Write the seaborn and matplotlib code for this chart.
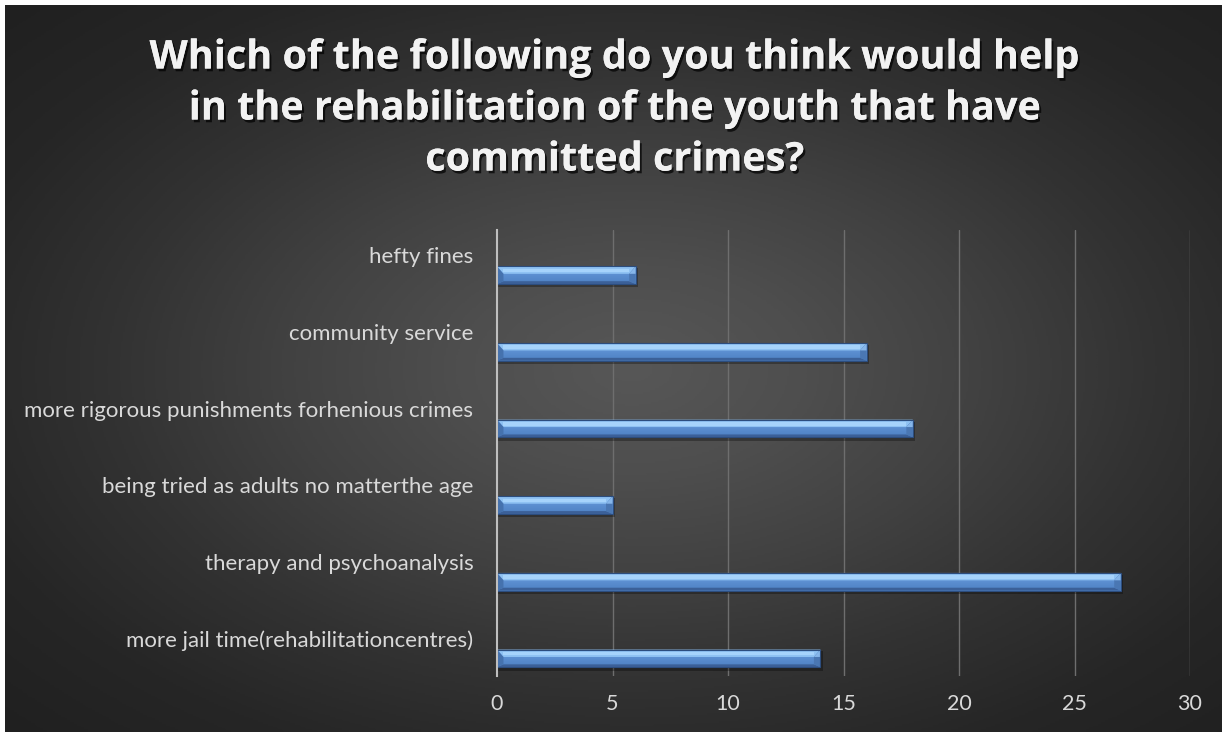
import numpy as np
import pandas as pd
import matplotlib
matplotlib.use("Agg")
import matplotlib.pyplot as plt
import matplotlib.patheffects as pe
from matplotlib.colors import LinearSegmentedColormap
import seaborn as sns

categories = [
    "hefty fines",
    "community service",
    "more rigorous punishments forhenious crimes",
    "being tried as adults no matterthe age",
    "therapy and psychoanalysis",
    "more jail time(rehabilitationcentres)",
]
responses = [6, 16, 18, 5, 27, 14]
x_ticks = [0, 5, 10, 15, 20, 25, 30]

df = pd.DataFrame({"option": categories, "count": responses})

sns.set_theme(style="white")
plt.rcParams["font.family"] = ["Lato", "DejaVu Sans"]

W, H = 1230, 736
fig = plt.figure(figsize=(W / 100, H / 100), dpi=100, facecolor="white")

# radial dark backdrop
bg = fig.add_axes([5 / W, 4 / H, 1 - 13 / W, 1 - 9 / H])
bg.set_axis_off()
yy, xx = np.mgrid[0:400, 0:700]
cx, cy = 360, 200
r = np.sqrt(((xx - cx) / 700) ** 2 + ((yy - cy) / 400) ** 2)
r = r / r.max()
bg_cmap = LinearSegmentedColormap.from_list(
    "bg", ["#575757", "#4e4e4e", "#414141", "#323232", "#262626", "#202020"])
bg.imshow(r, cmap=bg_cmap, aspect="auto", extent=(0, 1, 0, 1), origin="upper")
bg.set_xlim(0, 1)
bg.set_ylim(0, 1)

ax = fig.add_axes([497 / W, 1 - 676 / H, (1190 - 497) / W, (676 - 230) / H])
ax.patch.set_alpha(0)

sns.barplot(data=df, x="count", y="option", orient="h", width=0.23,
            color="#5d90d1", ax=ax, zorder=3)

ax.set_xlim(0, 30)
ax.set_ylim(5.23, -0.59)

# bevelled look on each bar
mid_cmap = LinearSegmentedColormap.from_list("mid", ["#74a7e4", "#5b8ed0", "#4e81c3"])
grad = np.linspace(0, 1, 64).reshape(-1, 1)
for p in list(ax.patches):
    x0, yt = p.get_x(), p.get_y()
    w, h = p.get_width(), p.get_height()
    x1, yb = x0 + w, yt + h
    dx = min(0.28, w * 0.15)
    dyt, dyb = h * 0.42, h * 0.16
    # soft shadow under the bar
    ax.add_patch(plt.Rectangle((x0, yt + 0.025), w + 0.1, h + 0.02,
                               facecolor="black", alpha=0.3, lw=0, zorder=2))
    im = ax.imshow(grad, cmap=mid_cmap, aspect="auto",
                   extent=(x0, x1, yb, yt), origin="upper", zorder=4)
    im.set_clip_path(p)
    # top face
    ax.fill([x0, x1, x1 - dx, x0 + dx], [yt, yt, yt + dyt, yt + dyt],
            color="#8fc2f3", lw=0, zorder=5)
    ax.fill([x0 + dx, x1 - dx, x1 - dx, x0 + dx],
            [yt + dyt * 0.3, yt + dyt * 0.3, yt + dyt * 0.8, yt + dyt * 0.8],
            color="#a6d3fb", lw=0, zorder=5)
    # bottom face
    ax.fill([x0, x1, x1 - dx, x0 + dx], [yb, yb, yb - dyb, yb - dyb],
            color="#3b6098", lw=0, zorder=5)
    # left face
    ax.fill([x0, x0 + dx, x0 + dx, x0], [yt, yt + dyt, yb - dyb, yb],
            color="#4572ae", lw=0, zorder=5)
    # right face
    ax.fill([x1, x1 - dx, x1 - dx, x1], [yt, yt + dyt, yb - dyb, yb],
            color="#4a77b3", lw=0, zorder=5)
    ax.fill([x1, x1 - dx, x1], [yt, yt + dyt, yt + dyt],
            color="#86b6ea", lw=0, zorder=5)
    p.set_edgecolor("#2c4d7e")
    p.set_linewidth(0.8)
    p.set_zorder(6)
    p.set_facecolor("none")

ax.set_xlim(0, 30)
ax.set_ylim(5.23, -0.59)

# category labels sit above their bars
ax.set_yticks([i - 0.26 for i in range(len(categories))])
ax.set_yticklabels(categories, fontsize=16, color="#d9d9d9")
ax.tick_params(axis="y", length=0, pad=17)

ax.set_xticks(x_ticks)
ax.set_xticklabels([str(t) for t in x_ticks], fontsize=15.5, color="#d9d9d9")
ax.tick_params(axis="x", length=0, pad=13)

for t in x_ticks[1:]:
    ax.axvline(t, color="#6e6e6e", lw=1.0, zorder=1)

for s in ["top", "right", "bottom"]:
    ax.spines[s].set_visible(False)
ax.spines["left"].set_color("#bfbfbf")
ax.spines["left"].set_linewidth(1.5)
ax.spines["left"].set_zorder(7)
ax.set_xlabel("")
ax.set_ylabel("")

title = ("Which of the following do you think would help\n"
         "in the rehabilitation of the youth that have\n"
         "committed crimes?")
fig.text(0.5, 1 - 109 / H, title, ha="center", va="center", fontsize=28.5,
         fontweight="bold", color="#f2f2f2", linespacing=1.4,
         family=["Open Sans", "DejaVu Sans"],
         path_effects=[pe.withSimplePatchShadow(offset=(1.5, -2), shadow_rgbFace="black", alpha=0.7),
                       pe.Normal()])

fig.savefig("out.png", dpi=100, facecolor="white")
